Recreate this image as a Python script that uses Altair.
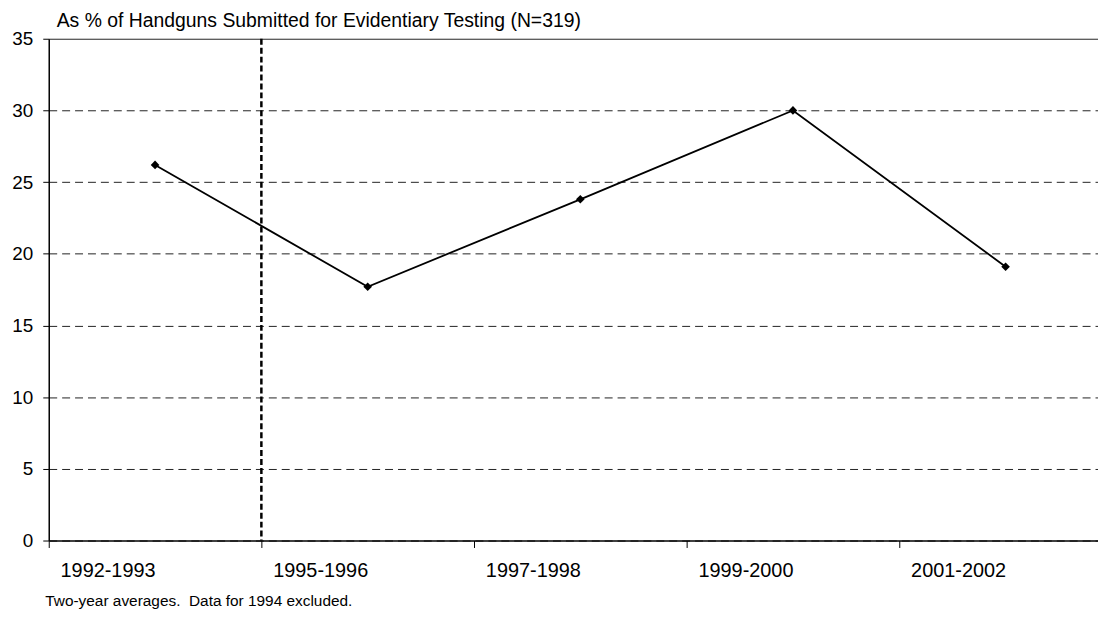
import altair as alt
import pandas as pd

periods = ["1992-1993", "1995-1996", "1997-1998", "1999-2000", "2001-2002"]
values = [26.2, 17.7, 23.8, 30.0, 19.1]
separator_period = ["1995-1996"]
y_ticks = [0, 5, 10, 15, 20, 25, 30, 35]

title_text = "As % of Handguns Submitted for Evidentiary Testing (N=319)"
footnote = "Two-year averages.\u00a0\u00a0Data for 1994 excluded."

df = pd.DataFrame({"period": periods, "value": values})
df_sep = pd.DataFrame({"period": separator_period})

FONT = "Liberation Sans"

x_scale = alt.Scale(type="band", domain=periods, range=[0, 1070],
                    paddingInner=0, paddingOuter=0)

x_axis = alt.Axis(
    title=footnote, titleFont=FONT, titleFontSize=15.5, titleFontWeight="normal",
    titleColor="black", titleAnchor="start", titleAlign="left",
    titleX=-4, titleY=65, titleBaseline="alphabetic",
    labelFont=FONT, labelFontSize=20, labelColor="black", labelPadding=23,
    labelAngle=0, tickBand="extent", tickSize=7, tickColor="black",
    domainColor="black", domainWidth=1.5, grid=False,
)

y_axis = alt.Axis(
    title=None, values=y_ticks, labelFont=FONT, labelFontSize=19,
    labelColor="black", labelPadding=10, tickSize=6, tickColor="black",
    domainColor="black", domainWidth=1.5, grid=True, gridColor="#222222",
    gridWidth=1,
    gridDash={"condition": {"test": "datum.value === 35", "value": []},
              "value": [8, 5]},
)

X = alt.X("period:N", sort=periods, scale=x_scale, axis=x_axis)
Y = alt.Y("value:Q", scale=alt.Scale(domain=[0, 35], nice=False), axis=y_axis)

line = alt.Chart(df).mark_line(color="black", strokeWidth=1.8).encode(x=X, y=Y)
pts = alt.Chart(df).mark_point(shape="diamond", filled=True, color="black",
                               size=75, opacity=1).encode(x=X, y=Y)
sep = alt.Chart(df_sep).mark_rule(color="black", strokeWidth=2.5,
                                  strokeDash=[6, 3]).encode(
    x=alt.X("period:N", sort=periods, scale=x_scale, bandPosition=0)
)

chart = alt.layer(sep, line, pts).properties(
    width=1056, height=505,
    padding={"left": 41, "top": 29, "right": 0, "bottom": 70},
    autosize=alt.AutoSizeParams(type="none"),
    title=alt.TitleParams(title_text, anchor="start", frame="group",
                          font=FONT, fontSize=19.5, fontWeight="normal",
                          color="black", dx=8, dy=11, offset=9),
).configure_view(stroke=None)

chart.save("out.html", embed_options={"renderer": "svg", "actions": False})
